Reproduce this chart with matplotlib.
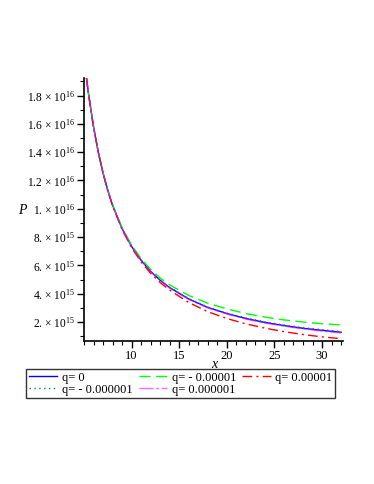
import matplotlib
matplotlib.use("Agg")
import matplotlib.pyplot as plt
from matplotlib.ticker import MultipleLocator

plt.rcParams['font.family'] = ['Liberation Serif', 'DejaVu Serif']
plt.rcParams['mathtext.fontset'] = 'custom'
plt.rcParams['mathtext.rm'] = 'Liberation Serif'
plt.rcParams['mathtext.it'] = 'Liberation Serif:italic'

x = [5, 5.25, 5.5, 6, 6.5, 7, 7.5, 8, 9, 10, 11, 12, 13, 14, 16, 18, 20, 22, 24, 26, 28, 30, 32]
p_q0 = [2.075e16, 1.928e16, 1.80e16, 1.58e16, 1.40e16, 1.253e16, 1.13e16, 1.025e16, 8.6e15,
        7.34e15, 6.36e15, 5.58e15, 4.95e15, 4.43e15, 3.63e15, 3.03e15, 2.60e15, 2.25e15,
        1.97e15, 1.75e15, 1.56e15, 1.41e15, 1.28e15]
p_qm5 = [2.075e16, 1.928e16, 1.80e16, 1.58e16, 1.40e16, 1.255e16, 1.133e16, 1.03e16, 8.66e15,
         7.43e15, 6.48e15, 5.72e15, 5.11e15, 4.62e15, 3.88e15, 3.33e15, 2.93e15, 2.60e15,
         2.35e15, 2.15e15, 2.0e15, 1.88e15, 1.80e15]
p_qp5 = [2.075e16, 1.928e16, 1.80e16, 1.578e16, 1.398e16, 1.25e16, 1.126e16, 1.02e16, 8.53e15,
         7.25e15, 6.24e15, 5.44e15, 4.79e15, 4.25e15, 3.38e15, 2.73e15, 2.25e15, 1.87e15,
         1.57e15, 1.32e15, 1.12e15, 0.95e15, 0.82e15]
p_qm6 = [2.075e16, 1.928e16, 1.80e16, 1.58e16, 1.40e16, 1.253e16, 1.13e16, 1.025e16, 8.61e15,
         7.35e15, 6.37e15, 5.60e15, 4.97e15, 4.45e15, 3.66e15, 3.06e15, 2.63e15, 2.29e15,
         2.01e15, 1.79e15, 1.60e15, 1.46e15, 1.33e15]
p_qp6 = [2.075e16, 1.928e16, 1.80e16, 1.58e16, 1.40e16, 1.253e16, 1.13e16, 1.025e16, 8.59e15,
         7.33e15, 6.35e15, 5.56e15, 4.93e15, 4.41e15, 3.60e15, 3.00e15, 2.57e15, 2.21e15,
         1.93e15, 1.71e15, 1.52e15, 1.36e15, 1.23e15]

labels = ["q= 0", "q= - 0.00001", "q= 0.00001", "q= - 0.000001", "q= 0.000001"]
ytick_vals = [2e15, 4e15, 6e15, 8e15, 1e16, 1.2e16, 1.4e16, 1.6e16, 1.8e16]
ytick_labels = [r"2. × 10$^{15}$", r"4. × 10$^{15}$", r"6. × 10$^{15}$", r"8. × 10$^{15}$",
                r"1. × 10$^{16}$", r"1.2 × 10$^{16}$", r"1.4 × 10$^{16}$",
                r"1.6 × 10$^{16}$", r"1.8 × 10$^{16}$"]
xtick_vals = [10, 15, 20, 25, 30]

fig = plt.figure(figsize=(3.74, 4.84), dpi=100)
ax = fig.add_axes([84/374, 1-341/484, (343-84)/374, (341-78)/484])

l_b, = ax.plot(x, p_q0, color='#0000ff', lw=1.0, label=labels[0])
l_g, = ax.plot(x, p_qm5, color='#00ff00', lw=1.0, dashes=(8, 4), label=labels[1])
l_r, = ax.plot(x, p_qp5, color='#ff0000', lw=1.0, dashes=(7, 3, 1.5, 3), label=labels[2])
l_t, = ax.plot(x, p_qm6, color='#008080', lw=1.0, dashes=(1, 2.5), label=labels[3])
l_m, = ax.plot(x, p_qp6, color='#ff00ff', lw=1.0, alpha=0.6, dashes=(10, 2, 2, 2), label=labels[4])

ax.set_xlim(5, 32.2)
ax.set_ylim(0.66e15, 1.924e16)
ax.spines['top'].set_visible(False)
ax.spines['right'].set_visible(False)
ax.spines['left'].set_linewidth(1.2)
ax.spines['bottom'].set_linewidth(1.2)

ax.set_yticks(ytick_vals)
ax.set_yticklabels(ytick_labels, fontsize=8.3)
ax.yaxis.set_minor_locator(MultipleLocator(1e15))
ax.set_xticks(xtick_vals)
ax.set_xticklabels([str(v) for v in xtick_vals], fontsize=9)
ax.xaxis.set_minor_locator(MultipleLocator(1))
ax.tick_params(which='major', length=5, width=1, direction='out', pad=1.5)
ax.tick_params(axis='x', which='major', pad=1.5)
ax.tick_params(which='minor', length=3, width=0.8, direction='out')

fig.text(22/374, 1-210/484, "P", fontsize=10, style='italic', ha='center', va='center')
fig.text(214/374, 1-364/484, "x", fontsize=10, style='italic', ha='center', va='center')

handles = [l_b, l_t, l_g, l_m, l_r]
leg = fig.legend(handles=handles, labels=[h.get_label() for h in handles], ncol=3,
                 loc='upper left', bbox_to_anchor=(26/374, 1-369/484),
                 fontsize=9, frameon=True, fancybox=False, borderpad=0.2,
                 handlelength=2.3, handletextpad=0.35, columnspacing=0.5,
                 labelspacing=0.02, borderaxespad=0)
leg.get_frame().set_edgecolor('black')
leg.get_frame().set_linewidth(1.0)

fig.savefig("out.png", dpi=100)
